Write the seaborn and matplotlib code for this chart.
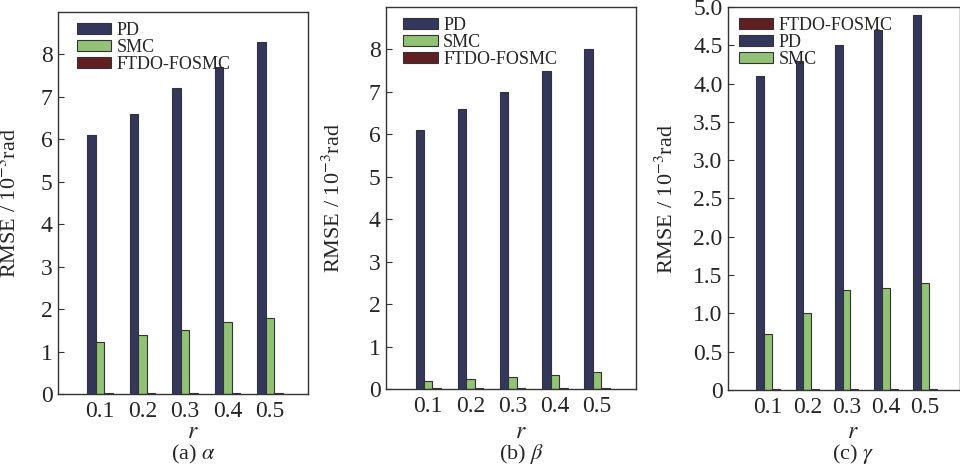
import numpy as np
import pandas as pd
import matplotlib
matplotlib.use("Agg")
import matplotlib.pyplot as plt
import seaborn as sns

r_labels = ["0.1", "0.2", "0.3", "0.4", "0.5"]
methods = ["PD", "SMC", "FTDO-FOSMC"]

pd_a = [6.1, 6.6, 7.2, 7.7, 8.3]
smc_a = [1.22, 1.4, 1.5, 1.7, 1.8]
ftdo_a = [0.02, 0.02, 0.02, 0.02, 0.02]

pd_b = [6.1, 6.6, 7.0, 7.5, 8.0]
smc_b = [0.19, 0.23, 0.28, 0.34, 0.40]
ftdo_b = [0.02, 0.02, 0.02, 0.02, 0.02]

pd_c = [4.1, 4.3, 4.5, 4.7, 4.9]
smc_c = [0.73, 1.0, 1.3, 1.33, 1.4]
ftdo_c = [0.015, 0.015, 0.015, 0.015, 0.015]

captions = ["(a) $\\alpha$", "(b) $\\beta$", "(c) $\\gamma$"]
colors = {"PD": "#2c3263", "SMC": "#8fcf68", "FTDO-FOSMC": "#6b1518"}

sns.set_theme(style="ticks")
plt.rcParams["font.family"] = ["Liberation Serif", "DejaVu Serif"]
plt.rcParams["mathtext.fontset"] = "stix"

fig = plt.figure(figsize=(9.6, 4.68), dpi=100)

W, H = 960.0, 468.0
panels = [
    dict(box=(58, 308, 12, 394), xlim=(-0.99, 4.89), ylim=(0, 9), yticks=list(range(0, 9)),
         ylabels=[str(i) for i in range(0, 9)], data=(pd_a, smc_a, ftdo_a),
         leg_order=["PD", "SMC", "FTDO-FOSMC"], ylab_x=-0.15, leg_x=0.035),
    dict(box=(386, 636, 7, 389), xlim=(-1.0, 4.92), ylim=(0, 9), yticks=list(range(0, 9)),
         ylabels=[str(i) for i in range(0, 9)], data=(pd_b, smc_b, ftdo_b),
         leg_order=["PD", "SMC", "FTDO-FOSMC"], ylab_x=-0.164, leg_x=0.03),
    dict(box=(728, 960, 7, 390), xlim=(-1.02, 4.89), ylim=(0, 5.0),
         yticks=[0, 0.5, 1.0, 1.5, 2.0, 2.5, 3.0, 3.5, 4.0, 4.5, 5.0],
         ylabels=["0", "0.5", "1.0", "1.5", "2.0", "2.5", "3.0", "3.5", "4.0", "4.5", "5.0"],
         data=(pd_c, smc_c, ftdo_c),
         leg_order=["FTDO-FOSMC", "PD", "SMC"], ylab_x=-0.216, leg_x=0.005),
]

for i, p in enumerate(panels):
    l, r, t, b = p["box"]
    ax = fig.add_axes([l / W, (H - b) / H, (r - l) / W, (b - t) / H])
    pdv, smcv, ftv = p["data"]
    df = pd.DataFrame({
        "r": r_labels * 3,
        "RMSE": list(pdv) + list(smcv) + list(ftv),
        "method": ["PD"] * 5 + ["SMC"] * 5 + ["FTDO-FOSMC"] * 5,
    })
    sns.barplot(data=df, x="r", y="RMSE", hue="method", hue_order=methods,
                palette=colors, width=0.6, edgecolor="#333333", linewidth=0.8,
                ax=ax, legend=True)
    ax.set_xlim(*p["xlim"])
    ax.set_ylim(*p["ylim"])
    ax.set_yticks(p["yticks"])
    ax.set_yticklabels(p["ylabels"])
    ax.tick_params(axis="y", direction="in", length=4, width=0.8, labelsize=17, pad=4, color="#333333")
    ax.tick_params(axis="x", length=0, labelsize=17, pad=5)
    for s in ax.spines.values():
        s.set_linewidth(1.0)
        s.set_color("#333333")
    ax.set_ylabel("RMSE / 10$^{-3}$rad", fontsize=16)
    ax.yaxis.set_label_coords(p["ylab_x"], 0.5)
    ax.set_xlabel("")
    hpx = b - t
    ax.text(0.54, -(433 - b) / hpx, "$r$", transform=ax.transAxes,
            ha="center", va="center", fontsize=17)
    ax.text(0.54, -(454 - b) / hpx, captions[i], transform=ax.transAxes,
            ha="center", va="center", fontsize=16)

    handles, labels = ax.get_legend_handles_labels()
    hmap = dict(zip(labels, handles))
    ax.legend([hmap[k] for k in p["leg_order"]], p["leg_order"], loc="upper left",
              bbox_to_anchor=(p["leg_x"], 1.0), frameon=False, fontsize=13,
              handlelength=1.9, handleheight=0.55, handletextpad=0.3,
              labelspacing=0.0, borderaxespad=0.15)

fig.savefig("out.png", dpi=100)
